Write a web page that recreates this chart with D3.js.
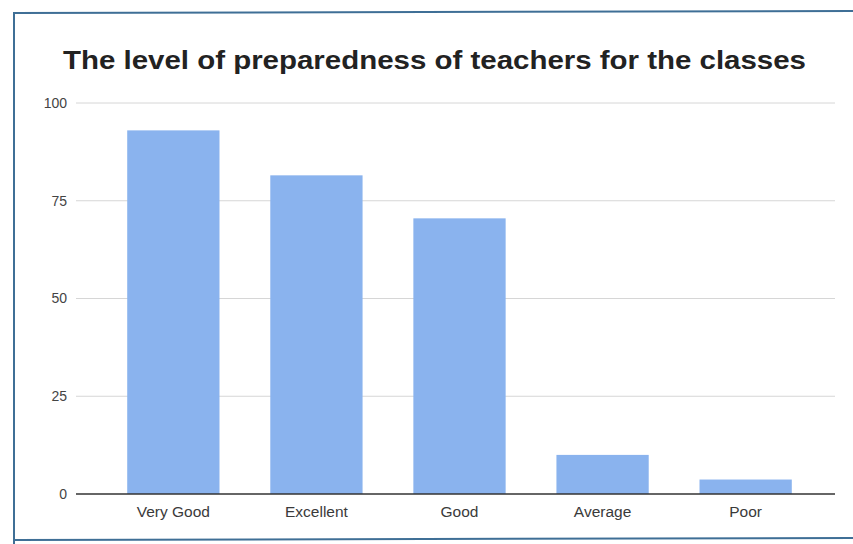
<!DOCTYPE html>
<html lang="en">
<head>
<meta charset="utf-8">
<script src="https://d3js.org/d3.v7.min.js"></script>
<style>
  body { margin: 0; background: #fff; }
  svg { display: block; font-family: "Liberation Sans", Arial, sans-serif; }
</style>
</head>
<body>
<script>
// chart data
var categories = ["Very Good", "Excellent", "Good", "Average", "Poor"];
var values = [93, 81.5, 70.5, 10, 3.7];
var yTicks = [0, 25, 50, 75, 100];
var title = "The level of preparedness of teachers for the classes";

var width = 853, height = 544;
var margin = {top: 103, right: 18, bottom: 50, left: 76};

var svg = d3.select("body").append("svg")
    .attr("width", width)
    .attr("height", height);

// frame of the scanned chart box
svg.append("path")
    .attr("d", "M853,11 L14,13 L14,544 M14,540 L853,538")
    .attr("fill", "none")
    .attr("stroke", "#3f6f96")
    .attr("stroke-width", 2);

var x = d3.scaleBand()
    .domain(categories)
    .range([margin.left + 4, width - margin.right + 4])
    .paddingInner(0.355)
    .paddingOuter(0.33);

var y = d3.scaleLinear()
    .domain([0, 100])
    .range([height - margin.bottom, margin.top]);

// gridlines
svg.append("g")
    .selectAll("line")
    .data(yTicks.filter(function(d) { return d > 0; }))
    .enter().append("line")
    .attr("x1", margin.left)
    .attr("x2", width - margin.right)
    .attr("y1", function(d) { return y(d); })
    .attr("y2", function(d) { return y(d); })
    .attr("stroke", "#d6d6d6")
    .attr("stroke-width", 1);

// y axis labels
var yAxis = d3.axisLeft(y).tickValues(yTicks).tickSize(0).tickPadding(8);
var gy = svg.append("g")
    .attr("transform", "translate(" + (margin.left - 1) + ",0)")
    .call(yAxis);
gy.select(".domain").remove();
gy.selectAll("text")
    .attr("font-size", 14)
    .attr("font-family", "Liberation Sans, Arial, sans-serif")
    .attr("fill", "#444");

// bars
svg.append("g")
    .selectAll("rect")
    .data(values)
    .enter().append("rect")
    .attr("x", function(d, i) { return x(categories[i]); })
    .attr("y", function(d) { return y(d); })
    .attr("width", x.bandwidth())
    .attr("height", function(d) { return y(0) - y(d); })
    .attr("fill", "#8ab3ee");

// x axis
var xAxis = d3.axisBottom(x).tickSize(0).tickPadding(12);
var gx = svg.append("g")
    .attr("transform", "translate(0," + y(0) + ")")
    .call(xAxis);
gx.select(".domain")
    .attr("d", "M" + margin.left + ",0H" + (width - margin.right))
    .attr("stroke", "#333")
    .attr("stroke-width", 1.6);
gx.selectAll("text")
    .attr("font-size", 15.5)
    .attr("font-family", "Liberation Sans, Arial, sans-serif")
    .attr("fill", "#3a3a3a");

// title
svg.append("text")
    .attr("x", 63)
    .attr("y", 69)
    .attr("font-size", 26)
    .attr("font-weight", "bold")
    .attr("fill", "#222")
    .attr("textLength", 743)
    .attr("lengthAdjust", "spacingAndGlyphs")
    .text(title);
</script>
</body>
</html>
